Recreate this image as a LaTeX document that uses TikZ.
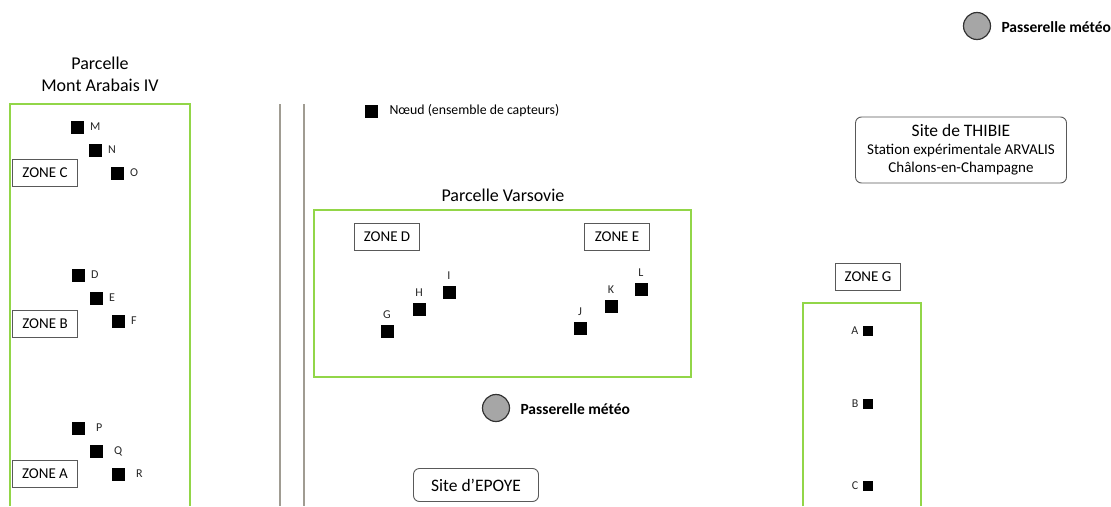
\documentclass[tikz,border=0pt]{standalone}
\usepackage{fontspec}
\setmainfont{Carlito}
\definecolor{vertparcelle}{RGB}{146,214,72}
\definecolor{grisroute}{RGB}{160,156,146}
\definecolor{grispasserelle}{RGB}{166,166,166}
\begin{document}
\begin{tikzpicture}[x=1pt, y=-1pt,
    capteur/.style={fill=black, minimum size=13pt, inner sep=0pt},
    petitcapteur/.style={fill=black, minimum size=10pt, inner sep=0pt},
    lettre/.style={font=\fontsize{12}{14}\selectfont, text=black!85},
    zone/.style={draw=black!65, line width=0.9pt, minimum width=65pt, minimum height=27pt, inner sep=0pt, font=\fontsize{15}{17}\selectfont},
    site/.style={draw=black!65, line width=0.9pt, rounded corners=6pt, align=center},
    parcelle/.style={draw=vertparcelle, line width=1.6pt},
    passerelle/.style={circle, draw=black!80, line width=1.2pt, fill=grispasserelle, minimum size=27pt, inner sep=0pt},
    titre/.style={font=\fontsize{18}{22}\selectfont, align=center}]
    \useasboundingbox (0,0) rectangle (1111,506);

    % routes
    \draw[grisroute, line width=1.3pt] (280,104) -- (280,506);
    \draw[grisroute, line width=1.3pt] (304,104) -- (304,506);

    % parcelle Mont Arabais IV
    \node[titre] (titreMA) at (100,74) {Parcelle\\Mont Arabais IV};
    \draw[parcelle] (10,506) -- (10,104) -- (190,104) -- (190,506);
    \node[zone] (zoneC) at (45,173) {ZONE C};
    \node[zone] (zoneB) at (45,324) {ZONE B};
    \node[zone] (zoneA) at (45,474) {ZONE A};
    \foreach \nom/\x/\y in {M/77/127, N/95/150, O/117/173,
                            D/78/275, E/96/298, F/118/321}
        \node[capteur, label={[lettre, xshift=3pt]right:\nom}] (n\nom) at (\x,\y) {};
    \foreach \nom/\x/\y in {P/78/428, Q/96/451, R/118/474}
        \node[capteur, label={[lettre, xshift=8pt]right:\nom}] (n\nom) at (\x,\y) {};

    % legende
    \node[capteur] (legende) at (371,111) {};
    \node[font=\fontsize{13.8}{16}\selectfont, anchor=west] (legendetexte) at (386,111) {Nœud (ensemble de capteurs)};

    % parcelle Varsovie
    \node[titre] (titreV) at (503,195) {Parcelle Varsovie};
    \draw[parcelle] (314,210) rectangle (691,377);
    \node[zone] (zoneD) at (387,237) {ZONE D};
    \node[zone] (zoneE) at (617,237) {ZONE E};
    \foreach \nom/\x/\y in {G/387/331, H/419/309, I/449/292,
                            J/580/328, K/611/306, L/641/289}
        \node[capteur, label={[lettre, yshift=2pt]above:\nom}] (n\nom) at (\x,\y) {};

    % passerelles meteo
    \node[passerelle] (passerelleE) at (496,408) {};
    \node[font=\bfseries\fontsize{15.5}{17}\selectfont, anchor=west] (passerelleEtexte) at (517,409) {Passerelle météo};
    \node[passerelle] (passerelleT) at (977,26) {};
    \node[font=\bfseries\fontsize{15.5}{17}\selectfont, anchor=west] (passerelleTtexte) at (998,27) {Passerelle météo};

    % sites
    \node[site, minimum width=125pt, minimum height=33pt, font=\fontsize{17.5}{20}\selectfont] (epoye) at (476,485) {Site d’EPOYE};
    \node[site, minimum width=211pt, minimum height=66pt, font=\fontsize{15}{18}\selectfont] (thibie) at (961,150)
        {{\fontsize{17.5}{20}\selectfont Site de THIBIE}\\Station expérimentale ARVALIS\\Châlons-en-Champagne};

    % zone G
    \node[zone] (zoneG) at (868,277) {ZONE G};
    \draw[parcelle] (803,506) -- (803,303) -- (921,303) -- (921,506);
    \foreach \nom/\y in {A/331, B/404, C/486}
        \node[petitcapteur, label={[lettre, xshift=-1pt]left:\nom}] (n\nom) at (868,\y) {};
\end{tikzpicture}
\end{document}
